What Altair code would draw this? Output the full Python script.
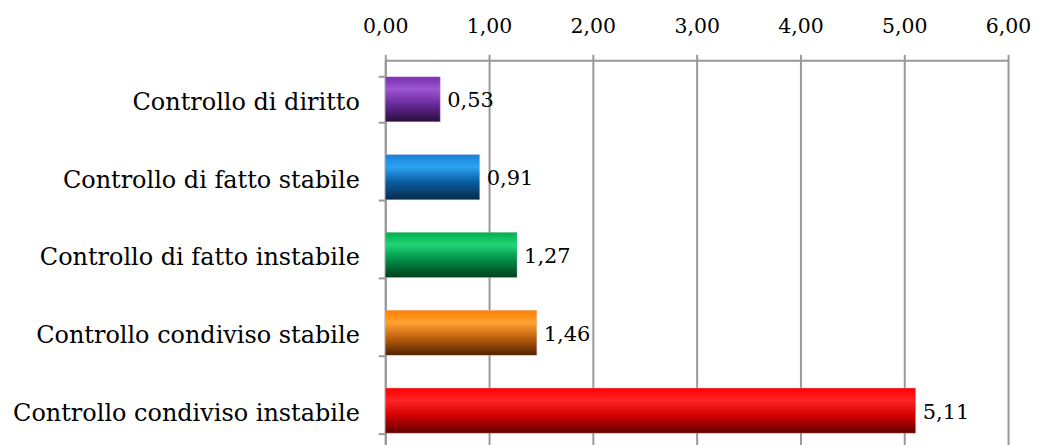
import altair as alt
import pandas as pd

categories = [
    "Controllo di diritto",
    "Controllo di fatto stabile",
    "Controllo di fatto instabile",
    "Controllo condiviso stabile",
    "Controllo condiviso instabile",
]
values = [0.53, 0.91, 1.27, 1.46, 5.11]
x_ticks = [0, 1, 2, 3, 4, 5, 6]

gradient_stops = [
    ["#7A30B2", "#9D55D0", "#6A2A9C", "#2A0E3C"],
    ["#1A82DA", "#2CA2F2", "#0A5EA2", "#072A4A"],
    ["#00B050", "#22D474", "#00904A", "#003E1C"],
    ["#FF7F00", "#FFA232", "#C2620E", "#4E2000"],
    ["#FF0000", "#FF2424", "#D40000", "#600000"],
]
offsets = [0.0, 0.28, 0.6, 1.0]

df = pd.DataFrame({"cat": categories, "val": values})

FONT = "DejaVu Serif"

y_enc = alt.Y(
    "cat:N",
    sort=categories,
    title=None,
    scale=alt.Scale(paddingInner=0.42, paddingOuter=0.21),
    axis=alt.Axis(
        orient="left",
        labelFont=FONT,
        labelFontSize=24,
        labelColor="black",
        labelPadding=19,
        labelOffset=3,
        tickSize=7,
        tickWidth=2,
        tickColor="#999999",
        tickBand="extent",
        domainColor="#999999",
        domainWidth=2,
        grid=False,
        labelLimit=420,
        minExtent=378,
        maxExtent=378,
    ),
)

x_enc = alt.X(
    "val:Q",
    title=None,
    scale=alt.Scale(domain=[0, 6], nice=False),
    axis=alt.Axis(
        orient="top",
        values=x_ticks,
        labelExpr="replace(format(datum.value, '.2f'), '.', ',')",
        labelFont=FONT,
        labelFontSize=20.5,
        labelColor="black",
        labelPadding=18,
        labelFlush=False,
        tickSize=6,
        tickWidth=2,
        tickColor="#999999",
        domainColor="#999999",
        domainWidth=2,
        grid=True,
        gridColor="#999999",
        gridWidth=2,
        minExtent=52,
        maxExtent=52,
    ),
)

base = alt.Chart(df)

layers = []
for cat, stops in zip(categories, gradient_stops):
    grad = alt.LinearGradient(
        gradient="linear",
        x1=0, x2=0, y1=0, y2=1,
        stops=[alt.GradientStop(color=c, offset=o) for c, o in zip(stops, offsets)],
    )
    layers.append(
        base.transform_filter(alt.datum.cat == cat)
        .mark_bar(color=grad, stroke="#D8C8D8", strokeWidth=0.6, strokeOpacity=0.6)
        .encode(x=x_enc, y=y_enc)
    )

labels = (
    base.transform_calculate(lab="replace(format(datum.val, '.2f'), '.', ',')")
    .mark_text(align="left", baseline="middle", dx=7, dy=2, font=FONT, fontSize=21, color="black")
    .encode(x=x_enc, y=y_enc, text="lab:N")
)

chart = (
    alt.layer(*layers, labels)
    .properties(width=624, height=390, padding=0, background="white")
    .configure_view(stroke=None)
)

chart.save("out.html", embed_options={"renderer": "svg", "actions": False})
